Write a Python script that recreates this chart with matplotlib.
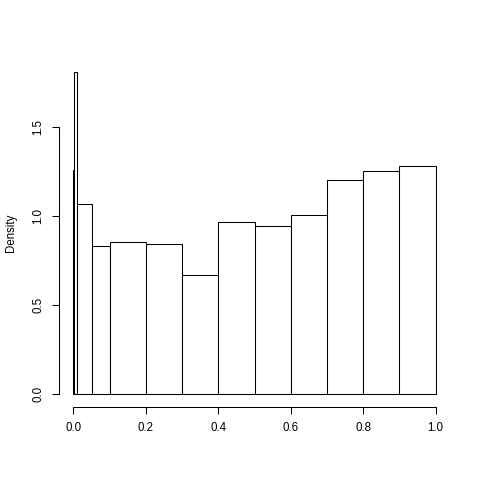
import numpy as np
import matplotlib.pyplot as plt

plt.rcParams['font.family'] = ['Liberation Sans', 'DejaVu Sans']

# bin breaks (uneven near zero) and densities
breaks = [0.0, 0.001, 0.01, 0.05, 0.1, 0.2, 0.3, 0.4, 0.5, 0.6, 0.7, 0.8, 0.9, 1.0]
density = [1.26, 1.81, 1.067, 0.831, 0.854, 0.843, 0.669, 0.966, 0.944, 1.006, 1.202, 1.253, 1.281]

fig = plt.figure(figsize=(4.8, 4.8), dpi=100)
ax = fig.add_axes([59 / 480, 73 / 480, 391 / 480, 348 / 480])

left = np.array(breaks[:-1])
widths = np.diff(breaks)
ax.bar(left, density, width=widths, align='edge', color='white',
       edgecolor='black', linewidth=0.75)

ymax = max(density)
ax.set_xlim(-0.04, 1.04)
ax.set_ylim(-0.04 * ymax, 1.04 * ymax)

# R-style detached axes
for s in ['top', 'right']:
    ax.spines[s].set_visible(False)
ax.spines['left'].set_bounds(0, 1.5)
ax.spines['bottom'].set_bounds(0, 1.0)
ax.spines['left'].set_linewidth(0.75)
ax.spines['bottom'].set_linewidth(0.75)

ax.set_xticks([0.0, 0.2, 0.4, 0.6, 0.8, 1.0])
ax.set_xticklabels(['0.0', '0.2', '0.4', '0.6', '0.8', '1.0'])
ax.set_yticks([0.0, 0.5, 1.0, 1.5])
ax.set_yticklabels(['0.0', '0.5', '1.0', '1.5'], rotation=90, va='center')
ax.tick_params(axis='both', length=5.2, width=0.75, labelsize=8.3, pad=5.5)

ax.set_ylabel('Density', fontsize=8.3, labelpad=11)

fig.savefig('out.png', dpi=100)
